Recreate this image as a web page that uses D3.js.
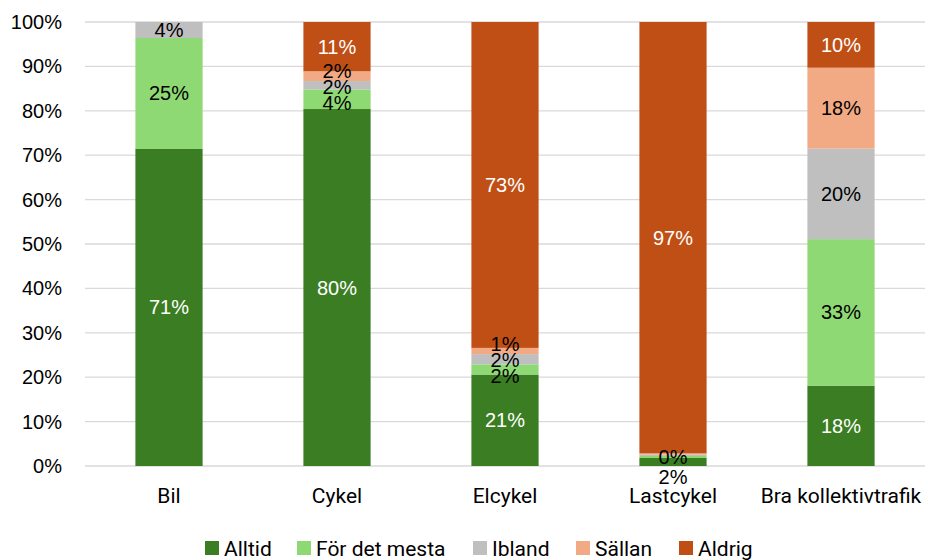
<!DOCTYPE html>
<html>
<head>
<meta charset="utf-8">
<script src="https://cdn.jsdelivr.net/npm/d3@7"></script>
<style>
  html, body { margin: 0; padding: 0; background: #fff; }
  svg { display: block; }
</style>
</head>
<body>
<svg id="chart" width="928" height="560"></svg>
<script>
// Survey categories and answer shares (percent)
const categories = ["Bil", "Cykel", "Elcykel", "Lastcykel", "Bra kollektivtrafik"];
const seriesNames = ["Alltid", "För det mesta", "Ibland", "Sällan", "Aldrig"];
const alltid      = [71.4, 80.4, 20.6,  1.8, 18.1];
const forDetMesta = [25.0,  4.4,  2.3,  0.45, 33.0];
const ibland      = [ 3.6,  1.9,  2.3,  0.3, 20.4];
const sallan      = [ 0.0,  2.2,  1.4,  0.3, 18.2];
const aldrig      = [ 0.0, 11.1, 73.4, 97.15, 10.3];
const yTicks = [0, 10, 20, 30, 40, 50, 60, 70, 80, 90, 100];

const colors = ["#3b7d23", "#8ed973", "#bfbfbf", "#f2aa84", "#c04f15"];
const labelColors = ["#ffffff", "#000000", "#000000", "#000000", "#ffffff"];

const rows = categories.map((c, i) => ({
  cat: c,
  "Alltid": alltid[i],
  "För det mesta": forDetMesta[i],
  "Ibland": ibland[i],
  "Sällan": sallan[i],
  "Aldrig": aldrig[i]
}));

const svg = d3.select("#chart");
const margin = { left: 85, right: 3, top: 22, bottom: 94 };
const W = 928, H = 560;

const x = d3.scaleBand()
  .domain(categories)
  .range([margin.left, W - margin.right])
  .paddingInner(0.6)
  .paddingOuter(0.3);

const y = d3.scaleLinear()
  .domain([0, 100])
  .range([H - margin.bottom, margin.top]);

// horizontal gridlines
svg.append("g")
  .selectAll("line")
  .data(yTicks)
  .join("line")
  .attr("x1", margin.left)
  .attr("x2", W - margin.right)
  .attr("y1", d => y(d))
  .attr("y2", d => y(d))
  .attr("stroke", "#d9d9d9")
  .attr("stroke-width", 1.3);

// y-axis tick labels
const yAxis = d3.axisLeft(y)
  .tickValues(yTicks)
  .tickFormat(d => d + "%")
  .tickSize(0)
  .tickPadding(23);
svg.append("g")
  .attr("transform", `translate(${margin.left},0)`)
  .call(yAxis)
  .call(g => g.select(".domain").remove())
  .call(g => g.selectAll("text")
    .attr("font-family", "'Liberation Sans', Arial, sans-serif")
    .attr("font-size", 20)
    .attr("fill", "#000"));

// stacked bars
const stack = d3.stack().keys(seriesNames);
const layers = stack(rows);

const groups = svg.append("g")
  .selectAll("g")
  .data(layers)
  .join("g")
  .attr("fill", (d, i) => colors[i]);

groups.selectAll("rect")
  .data(d => d)
  .join("rect")
  .attr("x", d => x(d.data.cat))
  .attr("width", x.bandwidth())
  .attr("y", d => y(d[1]))
  .attr("height", d => Math.max(0, y(d[0]) - y(d[1])));

// value labels: centred in each segment, crowded ones nudged apart
const labels = [];
layers.forEach((layer, si) => {
  layer.forEach((d, ci) => {
    const v = d[1] - d[0];
    if (v < 0.35) return;
    const top = y(d[1]), bottom = y(d[0]);
    let cy = (top + bottom) / 2;
    let fill = labelColors[si];
    let below = false;
    // a sliver at the base gets its label under the axis
    if (si === 0 && bottom - top < 12) { cy = bottom + 11; fill = "#000"; below = true; }
    labels.push({ ci, cy, fill, below, cx: x(d.data.cat) + x.bandwidth() / 2, text: Math.round(v) + "%" });
  });
});

const minGap = 16;
categories.forEach((c, ci) => {
  const group = labels.filter(l => l.ci === ci && !l.below).sort((a, b) => a.cy - b.cy);
  for (let iter = 0; iter < 60; iter++) {
    for (let k = 0; k < group.length - 1; k++) {
      const gap = group[k + 1].cy - group[k].cy;
      if (gap < minGap) {
        const push = (minGap - gap) / 2;
        group[k].cy -= push;
        group[k + 1].cy += push;
      }
    }
  }
});

svg.append("g")
  .attr("font-family", "'Liberation Sans', Arial, sans-serif")
  .attr("font-size", 20)
  .attr("text-anchor", "middle")
  .selectAll("text")
  .data(labels)
  .join("text")
  .attr("x", d => d.cx)
  .attr("y", d => d.cy)
  .attr("dy", "0.35em")
  .attr("fill", d => d.fill)
  .text(d => d.text);

// category axis
const xAxis = d3.axisBottom(x).tickSize(0).tickPadding(22);
svg.append("g")
  .attr("transform", `translate(0,${y(0)})`)
  .call(xAxis)
  .call(g => g.select(".domain").remove())
  .call(g => g.selectAll("text")
    .attr("font-family", "Roboto, sans-serif")
    .attr("font-size", 21)
    .attr("fill", "#000"));

// legend
const legendX = [205, 297, 473, 576, 679];
const legend = svg.append("g")
  .attr("font-family", "Roboto, sans-serif")
  .attr("font-size", 21);
seriesNames.forEach((name, i) => {
  const g = legend.append("g").attr("transform", `translate(${legendX[i]},541)`);
  g.append("rect").attr("width", 14).attr("height", 14).attr("fill", colors[i]);
  g.append("text").attr("x", 19).attr("y", 7).attr("dy", "0.36em").attr("fill", "#000").text(name);
});
</script>
</body>
</html>
